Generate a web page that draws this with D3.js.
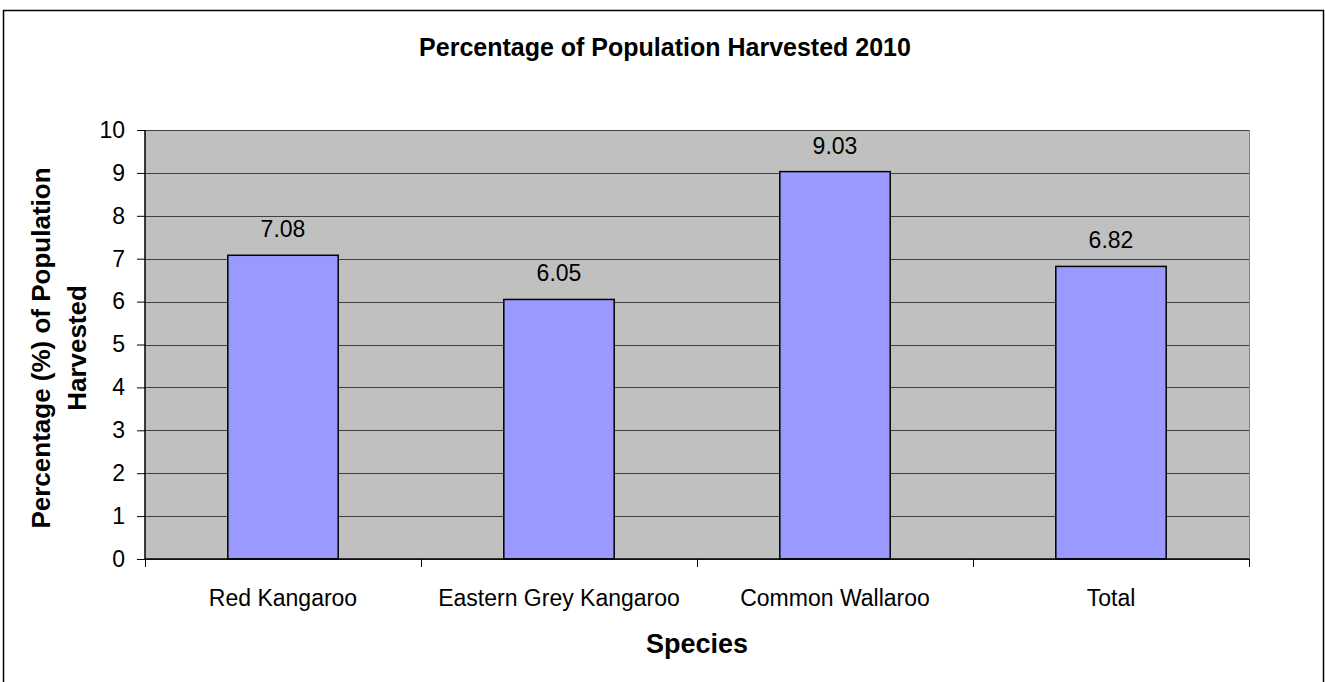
<!DOCTYPE html>
<html lang="en">
<head>
<meta charset="UTF-8"/>
<title>Percentage of Population Harvested 2010</title>
<script src="https://cdn.jsdelivr.net/npm/d3@7"></script>
<style>
  body { margin: 0; background: #fff; }
  text { font-family: "Liberation Sans", Arial, sans-serif; fill: #000; }
</style>
</head>
<body>
<script>
var species = ['Red Kangaroo', 'Eastern Grey Kangaroo', 'Common Wallaroo', 'Total'];
var harvested = [7.08, 6.05, 9.03, 6.82];
var yTicks = [0, 1, 2, 3, 4, 5, 6, 7, 8, 9, 10];

var width = 1325, height = 682;
var plot = {left: 145, top: 130, right: 1249, bottom: 559};

var svg = d3.select('body').append('svg')
  .attr('width', width)
  .attr('height', height);

// outer chart border (bottom runs off the page)
svg.append('path')
  .attr('d', 'M3.5,700 V10.5 H1323.5 V700')
  .attr('fill', 'none')
  .attr('stroke', '#000')
  .attr('stroke-width', 1.5);

var x = d3.scaleBand()
  .domain(species)
  .range([plot.left, plot.right])
  .paddingInner(0.6)
  .paddingOuter(0.3);

var y = d3.scaleLinear()
  .domain([0, 10])
  .range([plot.bottom, plot.top]);

// plot background
svg.append('rect')
  .attr('x', plot.left)
  .attr('y', plot.top)
  .attr('width', plot.right - plot.left)
  .attr('height', plot.bottom - plot.top)
  .attr('fill', '#c0c0c0');

// right edge of plot area
svg.append('line')
  .attr('x1', plot.right + 0.5).attr('x2', plot.right + 0.5)
  .attr('y1', plot.top).attr('y2', plot.bottom)
  .attr('stroke', '#808080');

// gridlines
svg.append('g').selectAll('line')
  .data(yTicks)
  .join('line')
  .attr('x1', plot.left).attr('x2', plot.right)
  .attr('y1', function(d) { return Math.round(y(d)) + 0.5; })
  .attr('y2', function(d) { return Math.round(y(d)) + 0.5; })
  .attr('stroke', '#404040')
  .attr('stroke-width', 1.2);

// bars
svg.append('g').selectAll('rect')
  .data(harvested)
  .join('rect')
  .attr('x', function(d, i) { return x(species[i]); })
  .attr('y', function(d) { return y(d); })
  .attr('width', x.bandwidth())
  .attr('height', function(d) { return y(0) - y(d); })
  .attr('fill', '#9999ff')
  .attr('stroke', '#000')
  .attr('stroke-width', 1.5);

// value labels
svg.append('g').selectAll('text')
  .data(harvested)
  .join('text')
  .attr('x', function(d, i) { return x(species[i]) + x.bandwidth() / 2; })
  .attr('y', function(d) { return y(d) - 18; })
  .attr('text-anchor', 'middle')
  .style('font-size', '23px')
  .text(function(d) { return d.toFixed(2); });

// y axis
var yAxis = svg.append('g')
  .attr('transform', 'translate(' + plot.left + ',0)')
  .call(d3.axisLeft(y).tickValues(yTicks).tickSize(8).tickPadding(12).tickFormat(d3.format('d')));
yAxis.select('.domain').attr('stroke', '#000').attr('stroke-width', 1.5).attr('d', 'M0,' + plot.top + 'V' + plot.bottom);
yAxis.selectAll('.tick line').attr('stroke', '#000');
yAxis.selectAll('.tick text').style('font-size', '23px').style('font-family', '"Liberation Sans", Arial, sans-serif');

// x axis with ticks on category boundaries
var xAxisG = svg.append('g')
  .attr('transform', 'translate(0,' + plot.bottom + ')');
xAxisG.append('line')
  .attr('x1', plot.left).attr('x2', plot.right)
  .attr('stroke', '#000').attr('stroke-width', 1.5);
var bounds = d3.range(species.length + 1).map(function(i) { return plot.left + i * (plot.right - plot.left) / species.length; });
xAxisG.selectAll('.bound')
  .data(bounds)
  .join('line')
  .attr('class', 'bound')
  .attr('x1', function(d) { return Math.round(d) + 0.5; })
  .attr('x2', function(d) { return Math.round(d) + 0.5; })
  .attr('y1', 0).attr('y2', 8)
  .attr('stroke', '#000');
xAxisG.selectAll('.cat')
  .data(species)
  .join('text')
  .attr('class', 'cat')
  .attr('x', function(d) { return x(d) + x.bandwidth() / 2; })
  .attr('y', 47)
  .attr('text-anchor', 'middle')
  .style('font-size', '23px')
  .text(function(d) { return d; });

// titles
svg.append('text')
  .attr('x', 665)
  .attr('y', 56)
  .attr('text-anchor', 'middle')
  .style('font-size', '25px')
  .style('font-weight', 'bold')
  .text('Percentage of Population Harvested 2010');

svg.append('text')
  .attr('x', (plot.left + plot.right) / 2)
  .attr('y', 653)
  .attr('text-anchor', 'middle')
  .style('font-size', '27px')
  .style('font-weight', 'bold')
  .text('Species');

var yTitle = svg.append('text')
  .attr('transform', 'translate(0,348) rotate(-90)')
  .attr('text-anchor', 'middle')
  .style('font-size', '26px')
  .style('font-weight', 'bold');
yTitle.append('tspan').attr('x', 0).attr('y', 50).text('Percentage (%) of Population');
yTitle.append('tspan').attr('x', 0).attr('y', 86).text('Harvested');
</script>
</body>
</html>
